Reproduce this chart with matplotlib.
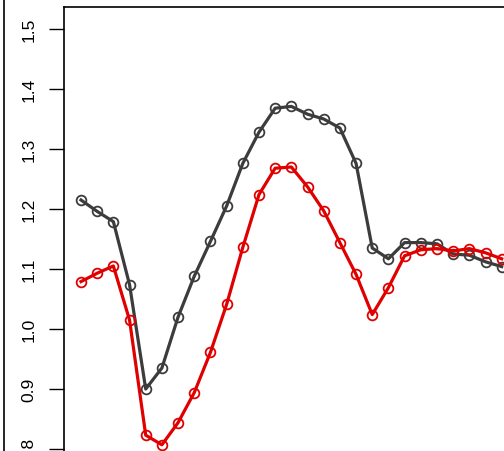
import matplotlib
matplotlib.use("Agg")
import matplotlib.pyplot as plt
from matplotlib.lines import Line2D

plt.rcParams['font.family'] = ['Liberation Sans', 'DejaVu Sans']

# values
gray_vals = [1.215, 1.196, 1.179, 1.074, 0.900, 0.935, 1.020, 1.088, 1.146,
             1.205, 1.276, 1.328, 1.368, 1.371, 1.358, 1.350, 1.335, 1.276,
             1.135, 1.117, 1.144, 1.144, 1.142, 1.125, 1.123, 1.112, 1.104]
red_vals = [1.079, 1.093, 1.105, 1.015, 0.823, 0.807, 0.844, 0.894, 0.961,
            1.041, 1.136, 1.224, 1.268, 1.270, 1.237, 1.197, 1.144, 1.091,
            1.024, 1.069, 1.122, 1.132, 1.134, 1.130, 1.134, 1.127, 1.117]
x = list(range(1, len(gray_vals) + 1))
yticks = [0.8, 0.9, 1.0, 1.1, 1.2, 1.3, 1.4, 1.5]

W, H = 504, 452
fig = plt.figure(figsize=(W / 100, H / 100), dpi=100)

# axes box in pixels (extends past right and bottom edge, like the crop)
left_px, top_px, right_px, bot_px = 64, 8, 560, 480
ax = fig.add_axes([left_px / W, 1 - bot_px / H,
                   (right_px - left_px) / W, (bot_px - top_px) / H])

# pixel -> data mapping: x=1 at 81px, 16.18 px per step; 1.5 at 30px, 600 px per unit
dx = 16.18
ax.set_xlim(1 - (81 - left_px) / dx, 1 + (right_px - 81) / dx)
ax.set_ylim(1.5 - (bot_px - 30) / 600, 1.5 + (30 - top_px) / 600)

ax.plot(x, gray_vals, color='#3c3c3c', lw=2.3, marker='o', ms=7,
        mfc='none', mew=1.3, zorder=3)
ax.plot(x, red_vals, color='#e00000', lw=2.3, marker='o', ms=7,
        mfc='none', mew=1.3, zorder=4)

ax.set_yticks(yticks)
ax.set_yticklabels([f"{v:.1f}" for v in yticks], rotation=90, va='center',
                   fontsize=12.5)
ax.tick_params(axis='y', length=11, width=1, pad=9)
ax.set_xticks([])
for s in ax.spines.values():
    s.set_linewidth(1.2)

# edge of neighbouring panel on the far left
fig.add_artist(Line2D([4 / W, 4 / W], [0, 1], color='black', lw=1.2))

fig.savefig('out.png', dpi=100)
